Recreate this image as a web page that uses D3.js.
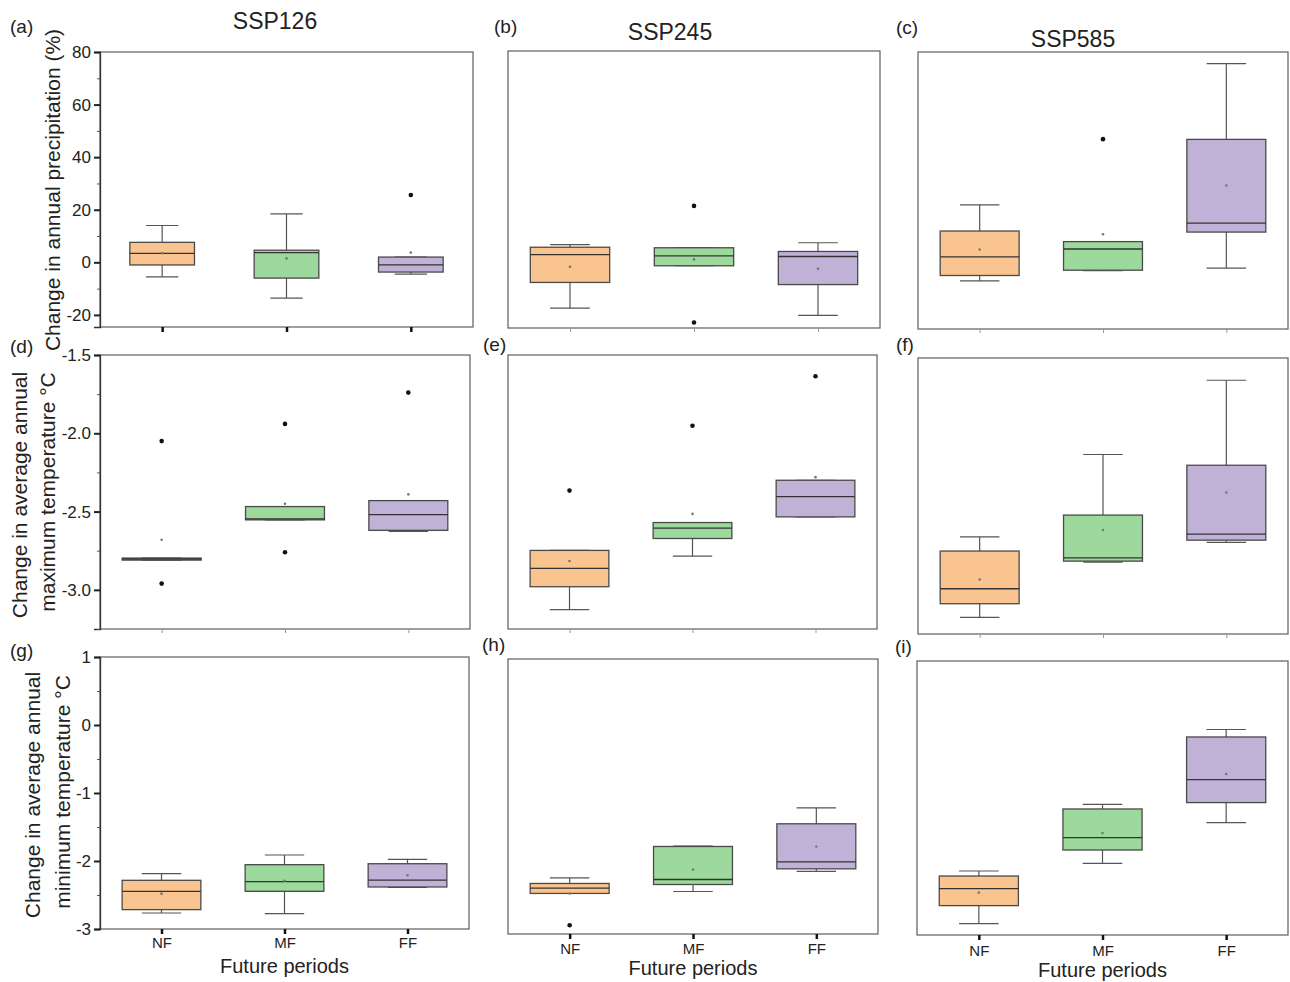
<!DOCTYPE html>
<html>
<head>
<meta charset="utf-8">
<script src="https://cdn.jsdelivr.net/npm/d3@7"></script>
<style>
  body { margin: 0; background: #fff; }
  svg { display: block; font-family: Arial, "Liberation Sans", sans-serif; }
</style>
</head>
<body>
<svg id="chart" width="1290" height="982"></svg>
<script>
// categories
const periods = ["NF", "MF", "FF"];
const scenarios = ["SSP126", "SSP245", "SSP585"];
const panelLetters = ["(a)", "(b)", "(c)", "(d)", "(e)", "(f)", "(g)", "(h)", "(i)"];
const periodColors = ["#f9c48f", "#9dd89c", "#c0b1d7"];

// every box: [lower whisker, Q1, median, Q3, upper whisker, mean]
// one block per scenario, one box per period
const precipBoxes = [
  [[-5.5, -1.0, 3.4, 7.6, 14.0, 3.5], [-13.6, -6.0, 3.7, 4.6, 18.4, 1.5], [-4.5, -3.7, -1.0, 2.0, 2.0, 3.7]],
  [[-17.1, -7.4, 3.1, 5.9, 6.9, -1.5], [-1.1, -1.1, 2.6, 5.7, 5.7, 1.3], [-19.8, -8.2, 2.4, 4.3, 7.6, -2.2]],
  [[-6.4, -4.4, 2.6, 12.4, 22.3, 5.4], [-2.6, -2.4, 5.6, 8.4, 8.4, 11.2], [-1.6, 12.0, 15.4, 47.0, 75.6, 29.6]]
];
const precipOutliers = [
  [[], [], [25.6]],
  [[], [21.5, -22.5], []],
  [[], [47.1], []]
];

const tmaxBoxes = [
  [[-2.81, -2.81, -2.803, -2.797, -2.797, -2.68], [-2.553, -2.553, -2.547, -2.468, -2.468, -2.45], [-2.627, -2.62, -2.52, -2.43, -2.43, -2.39]],
  [[-3.126, -2.98, -2.863, -2.748, -2.748, -2.816], [-2.785, -2.672, -2.606, -2.57, -2.57, -2.515], [-2.534, -2.534, -2.404, -2.30, -2.30, -2.28]],
  [[-3.144, -3.058, -2.963, -2.724, -2.634, -2.904], [-2.794, -2.788, -2.767, -2.496, -2.112, -2.591], [-2.669, -2.655, -2.617, -2.18, -1.641, -2.353]]
];
const tmaxOutliers = [
  [[-2.05, -2.96], [-1.94, -2.76], [-1.74]],
  [[-2.366], [-1.952], [-1.636]],
  [[], [], []]
];

const tminBoxes = [
  [[-2.765, -2.715, -2.446, -2.284, -2.186, -2.48], [-2.774, -2.446, -2.303, -2.054, -1.912, -2.29], [-2.387, -2.382, -2.28, -2.04, -1.975, -2.21]],
  [[-2.41, -2.41, -2.333, -2.265, -2.183, -2.41], [-2.382, -2.28, -2.207, -1.727, -1.722, -2.062], [-2.09, -2.052, -1.95, -1.397, -1.164, -1.727]],
  [[-2.834, -2.571, -2.323, -2.139, -2.066, -2.381], [-1.953, -1.759, -1.579, -1.16, -1.092, -1.511], [-1.359, -1.067, -0.732, -0.109, 0.0, -0.65]]
];
const tminOutliers = [
  [[], [], []],
  [[-2.872], [], []],
  [[], [], []]
];

// axes
const precipDomain = [-24.6, 80];
const precipTicks = [-20, 0, 20, 40, 60, 80];
const precipMinor = [-10, 10, 30, 50, 70];
const tmaxDomain = [-3.25, -1.5];
const tmaxTicks = [-3.0, -2.5, -2.0, -1.5];
const tmaxMinor = [-3.25, -2.75, -2.25, -1.75];
const tminDomain = [-3, 1];
const tminTicks = [-3, -2, -1, 0, 1];
const tminMinor = [-2.5, -1.5, -0.5, 0.5];

const rows = [
  { boxes: precipBoxes, outliers: precipOutliers, domain: precipDomain, ticks: precipTicks, minor: precipMinor, digits: 0,
    title: [{ text: "Change in annual precipitation (%)", x: 53, y: 190 }] },
  { boxes: tmaxBoxes, outliers: tmaxOutliers, domain: tmaxDomain, ticks: tmaxTicks, minor: tmaxMinor, digits: 1,
    title: [{ text: "Change in average annual", x: 20, y: 495 }, { text: "maximum temperature °C", x: 48, y: 492 }] },
  { boxes: tminBoxes, outliers: tminOutliers, domain: tminDomain, ticks: tminTicks, minor: tminMinor, digits: 0,
    title: [{ text: "Change in average annual", x: 33, y: 795 }, { text: "minimum temperature °C", x: 63, y: 792 }] }
];

// layout: plot frames [x0, y0, x1, y1]
const frames = [
  [[100, 52, 473, 327], [508, 51, 880, 328], [918, 52, 1288, 329]],
  [[100, 355, 470, 629], [508, 355, 877, 629], [918, 358, 1288, 634]],
  [[100, 657, 469, 929], [508, 659, 878, 934], [917, 661, 1288, 935]]
];
const boxFrac = [[0.52, 0.64, 0.64], [0.64, 0.64, 0.64], [0.64, 0.64, 0.64]];
const thickTicks = [[true, false, false], [false, false, false], [true, true, true]];
const letterPos = [[[10, 33], [494, 33], [896, 34]], [[10, 353], [483, 351], [896, 351]], [[10, 657], [482, 651], [895, 653]]];
const titlePos = [[275, 29], [670, 40], [1073, 47]];
const xLabelY = [[948, 973], [954, 975], [956, 977]];

const svg = d3.select("#chart");
const textColor = "#222";

rows.forEach((row, r) => {
  scenarios.forEach((sc, c) => {
    const [x0, y0, x1, y1] = frames[r][c];
    const x = d3.scalePoint().domain(periods).range([x0, x1]).padding(0.5);
    const y = d3.scaleLinear().domain(row.domain).range([y1, y0]);
    const boxW = x.step() * boxFrac[r][c];
    const g = svg.append("g");

    g.append("rect")
      .attr("x", x0).attr("y", y0)
      .attr("width", x1 - x0).attr("height", y1 - y0)
      .attr("fill", "#fff")
      .attr("stroke", "#6a6a6a")
      .attr("stroke-width", 1.3);

    const data = row.boxes[c].map((s, i) => ({
      period: periods[i], lo: s[0], q1: s[1], med: s[2], q3: s[3], hi: s[4], mean: s[5],
      out: row.outliers[c][i], color: periodColors[i]
    }));

    const box = g.selectAll("g.box")
      .data(data)
      .join("g")
      .attr("class", "box");

    // whiskers
    box.append("line")
      .attr("x1", d => x(d.period)).attr("x2", d => x(d.period))
      .attr("y1", d => y(d.hi)).attr("y2", d => y(d.lo))
      .attr("stroke", "#555").attr("stroke-width", 1.2);
    ["lo", "hi"].forEach(k => {
      box.append("line")
        .attr("x1", d => x(d.period) - boxW / 4).attr("x2", d => x(d.period) + boxW / 4)
        .attr("y1", d => y(d[k])).attr("y2", d => y(d[k]))
        .attr("stroke", "#555").attr("stroke-width", 1.2);
    });

    box.append("rect")
      .attr("x", d => x(d.period) - boxW / 2)
      .attr("y", d => y(d.q3))
      .attr("width", boxW)
      .attr("height", d => Math.max(1, y(d.q1) - y(d.q3)))
      .attr("fill", d => d.color)
      .attr("stroke", "#4a4a4a")
      .attr("stroke-width", 1.3);

    box.append("line")
      .attr("x1", d => x(d.period) - boxW / 2).attr("x2", d => x(d.period) + boxW / 2)
      .attr("y1", d => y(d.med)).attr("y2", d => y(d.med))
      .attr("stroke", "#333").attr("stroke-width", 1.3);

    box.append("circle")
      .attr("cx", d => x(d.period)).attr("cy", d => y(d.mean))
      .attr("r", 1.3).attr("fill", "#777");

    box.selectAll("circle.out")
      .data(d => d.out.map(v => ({ period: d.period, v })))
      .join("circle")
      .attr("class", "out")
      .attr("cx", d => x(d.period)).attr("cy", d => y(d.v))
      .attr("r", 2.3).attr("fill", "#111");

    // x axis ticks
    const thick = thickTicks[r][c];
    const xAxis = g.append("g")
      .attr("transform", `translate(0,${y1})`)
      .call(d3.axisBottom(x).tickSize(thick ? 5 : 4).tickFormat(r === 2 ? null : ""));
    xAxis.select(".domain").remove();
    xAxis.selectAll(".tick line")
      .attr("stroke", thick ? "#111" : "#999")
      .attr("stroke-width", thick ? 2.5 : 1);
    xAxis.selectAll(".tick text")
      .attr("y", xLabelY[c][0] - y1)
      .attr("dy", 0)
      .attr("fill", textColor)
      .style("font-size", "15px")
      .style("font-family", "Arial, 'Liberation Sans', sans-serif");

    if (r === 2) {
      g.append("text")
        .attr("x", (x0 + x1) / 2).attr("y", xLabelY[c][1])
        .attr("text-anchor", "middle")
        .attr("fill", textColor)
        .style("font-size", "20px")
        .text("Future periods");
    }

    // y axis only on first column
    if (c === 0) {
      const yAxis = g.append("g")
        .attr("transform", `translate(${x0},0)`)
        .call(d3.axisLeft(y).tickValues(row.ticks).tickSize(6).tickPadding(3)
          .tickFormat(d => d.toFixed(row.digits)));
      yAxis.select(".domain").attr("stroke", "#333").attr("stroke-width", 1.3);
      yAxis.selectAll(".tick line").attr("stroke", "#222").attr("stroke-width", 2);
      yAxis.selectAll(".tick text")
        .attr("fill", textColor)
        .style("font-size", "17px")
        .style("font-family", "Arial, 'Liberation Sans', sans-serif");
      const minor = g.append("g")
        .attr("transform", `translate(${x0},0)`)
        .call(d3.axisLeft(y).tickValues(row.minor).tickSize(3).tickFormat(""));
      minor.select(".domain").remove();
      minor.selectAll(".tick line").attr("stroke", "#555").attr("stroke-width", 1);

      row.title.forEach(t => {
        svg.append("text")
          .attr("transform", `translate(${t.x},${t.y}) rotate(-90)`)
          .attr("text-anchor", "middle")
          .attr("dy", "0.35em")
          .attr("fill", textColor)
          .style("font-size", "21px")
          .text(t.text);
      });
    }

    // panel letter
    svg.append("text")
      .attr("x", letterPos[r][c][0]).attr("y", letterPos[r][c][1])
      .attr("fill", textColor)
      .style("font-size", "19px")
      .text(panelLetters[r * 3 + c]);

    if (r === 0) {
      svg.append("text")
        .attr("x", titlePos[c][0]).attr("y", titlePos[c][1])
        .attr("text-anchor", "middle")
        .attr("fill", textColor)
        .style("font-size", "23px")
        .text(sc);
    }
  });
});
</script>
</body>
</html>
